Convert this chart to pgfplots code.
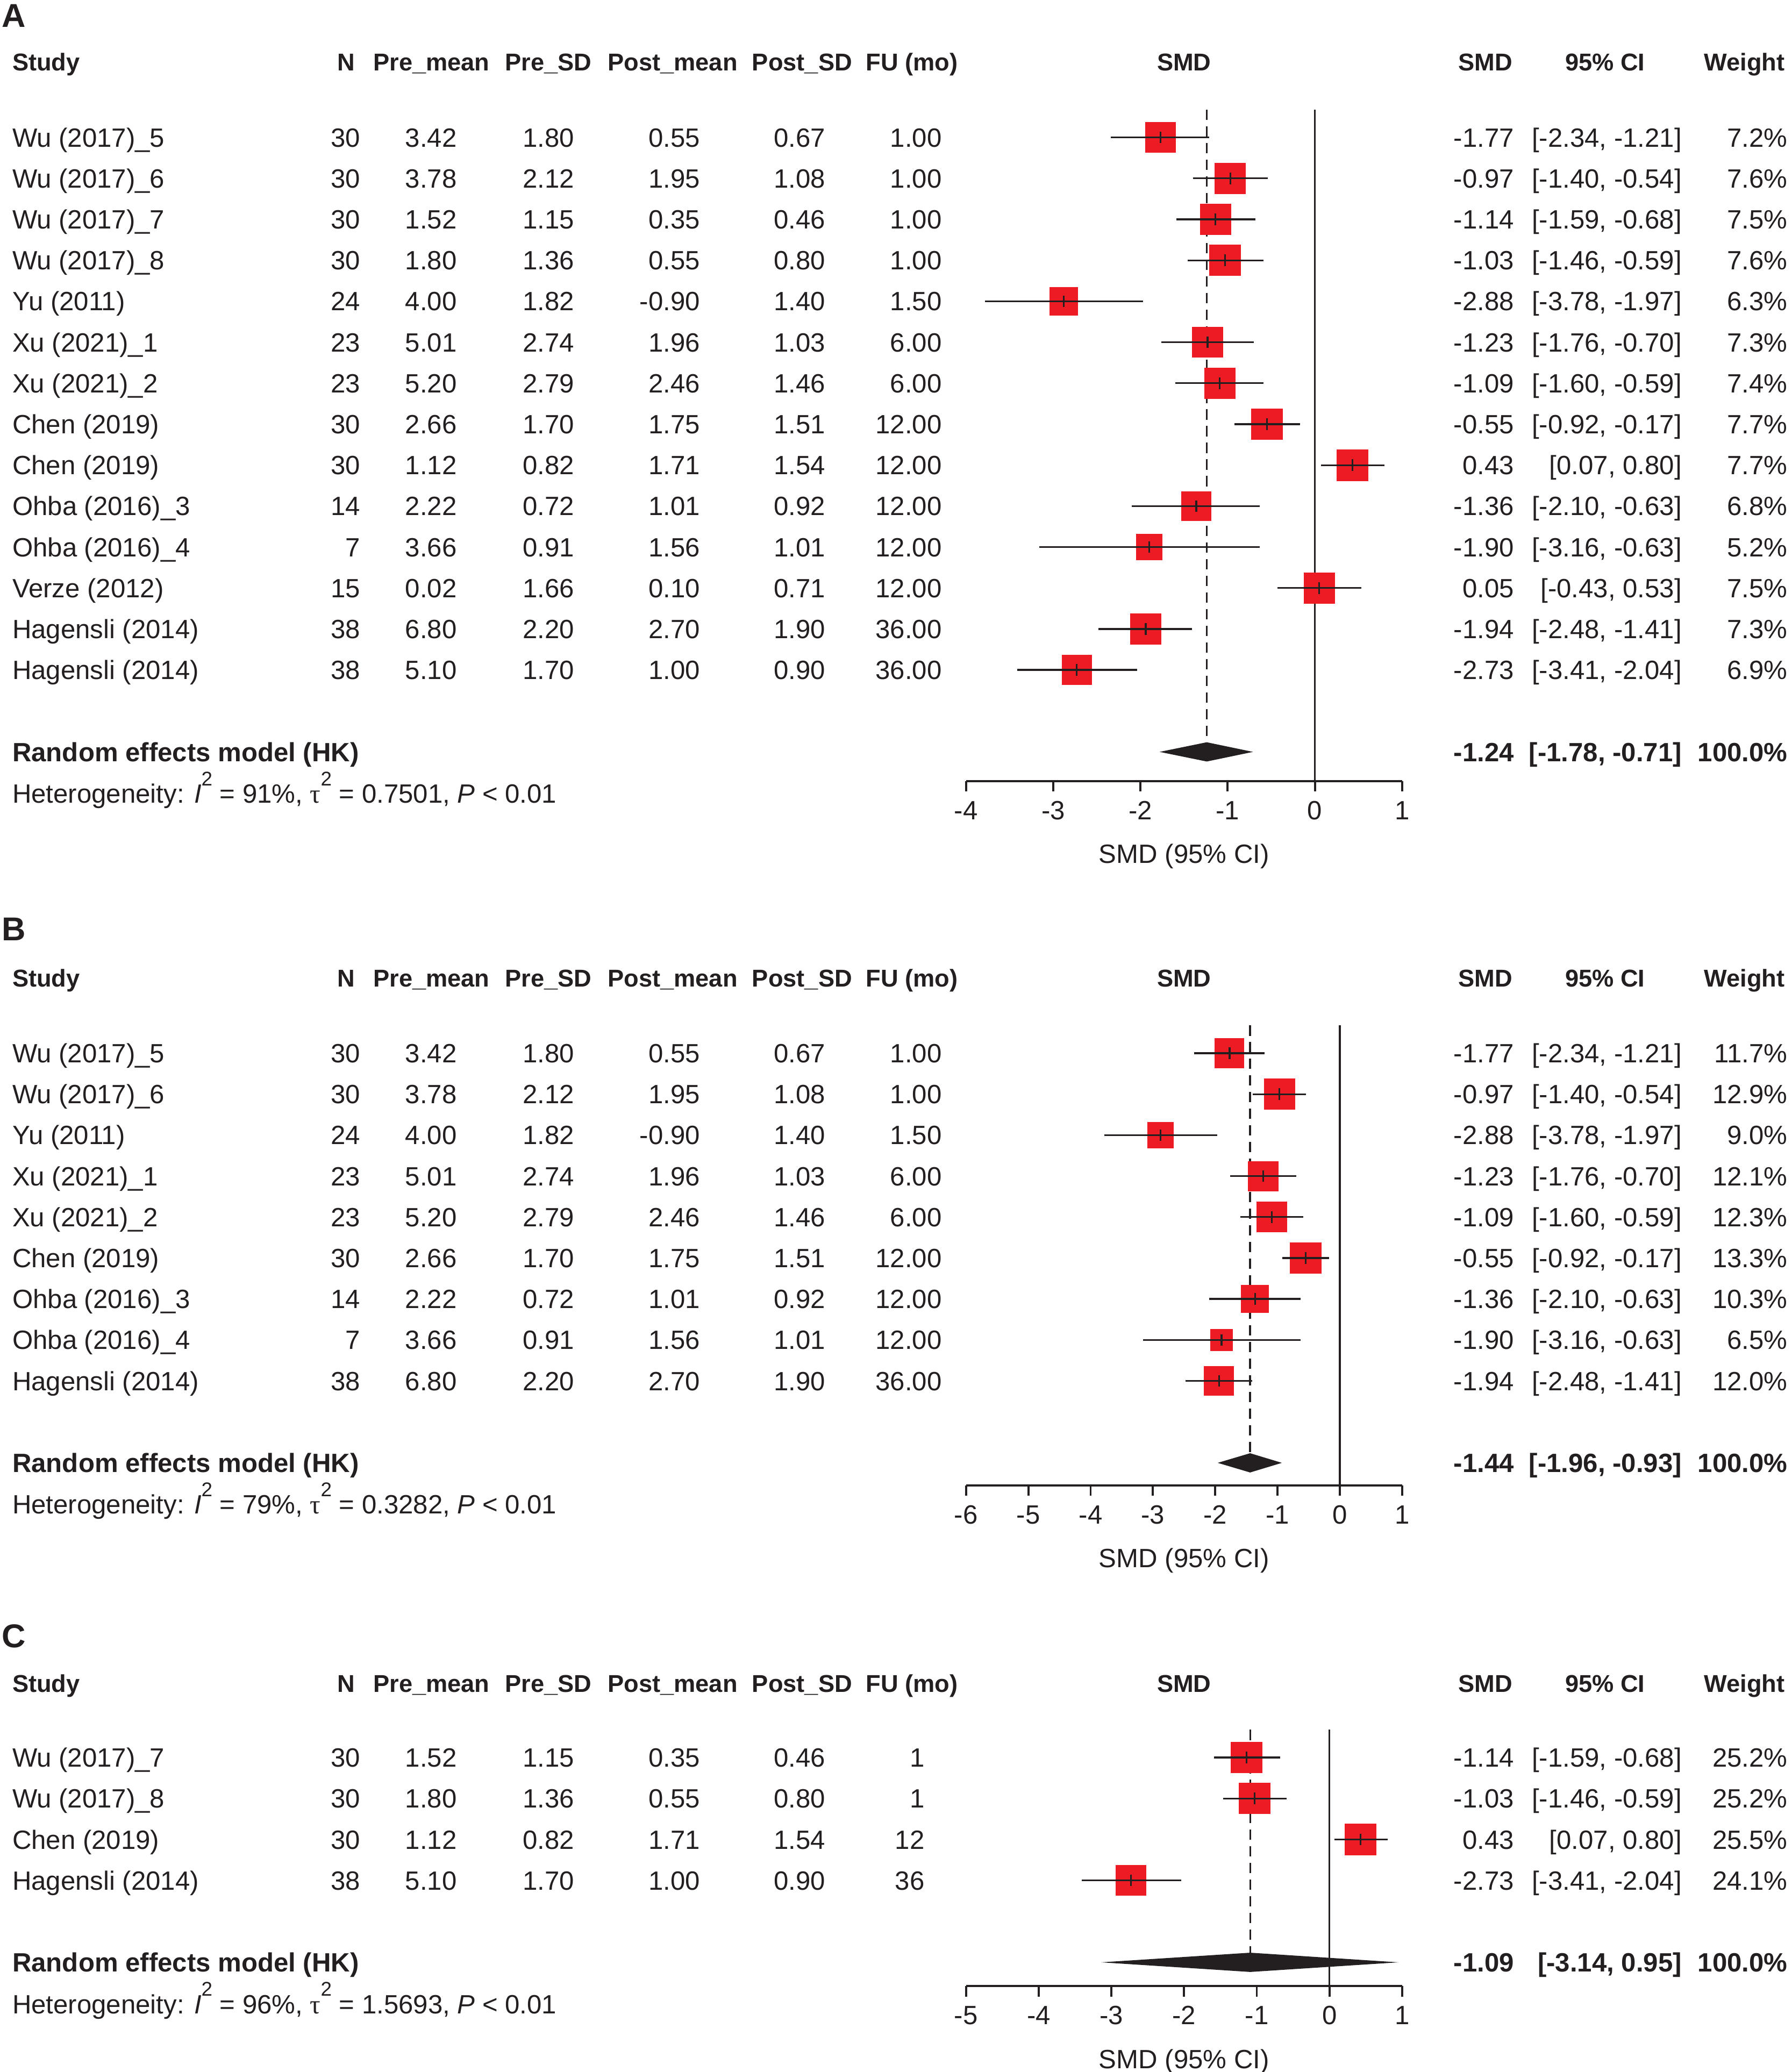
\documentclass[border=0pt]{standalone}
\usepackage{pgfplots}
\pgfplotsset{compat=1.18}
\usepackage{pgfplotstable}
\usepackage{fontspec}
\setmainfont{Liberation Sans}
\newfontfamily\greekfont{Liberation Serif}

\definecolor{ink}{HTML}{231F20}
\definecolor{sqred}{HTML}{ED1C24}

% k = row, est/lo/hi = SMD with 95% CI, w = weight in %
\pgfplotstableread{
k est lo hi w
1 -1.77 -2.34 -1.21 7.2
2 -0.97 -1.40 -0.54 7.6
3 -1.14 -1.59 -0.68 7.5
4 -1.03 -1.46 -0.59 7.6
5 -2.88 -3.78 -1.97 6.3
6 -1.23 -1.76 -0.70 7.3
7 -1.09 -1.60 -0.59 7.4
8 -0.55 -0.92 -0.17 7.7
9 0.43 0.07 0.80 7.7
10 -1.36 -2.10 -0.63 6.8
11 -1.90 -3.16 -0.63 5.2
12 0.05 -0.43 0.53 7.5
13 -1.94 -2.48 -1.41 7.3
14 -2.73 -3.41 -2.04 6.9
}\dataA
\pgfplotstableread{
k est lo hi w
1 -1.77 -2.34 -1.21 11.7
2 -0.97 -1.40 -0.54 12.9
3 -2.88 -3.78 -1.97 9.0
4 -1.23 -1.76 -0.70 12.1
5 -1.09 -1.60 -0.59 12.3
6 -0.55 -0.92 -0.17 13.3
7 -1.36 -2.10 -0.63 10.3
8 -1.90 -3.16 -0.63 6.5
9 -1.94 -2.48 -1.41 12.0
}\dataB
\pgfplotstableread{
k est lo hi w
1 -1.14 -1.59 -0.68 25.2
2 -1.03 -1.46 -0.59 25.2
3 0.43 0.07 0.80 25.5
4 -2.73 -3.41 -2.04 24.1
}\dataC

\pgfplotsset{
  forest/.style={
    scale only axis, width=165pt, clip=false, clip marker paths=true,
    axis x line=bottom, axis y line=none,
    x axis line style={-, line width=0.8pt, draw=ink},
    xtick style={line width=0.8pt, draw=ink},
    tick align=outside, major tick length=4pt,
    ytick=\empty,
    xticklabel style={font=\fontsize{10}{12}\selectfont, text=ink, inner sep=0pt,
      text height=7.15pt, text depth=0pt, anchor=center, yshift=-7pt},
    xlabel={SMD (95\% CI)},
    xlabel style={at={(axis description cs:0.5,0)}, anchor=center, yshift=-27.5pt,
      inner sep=0pt, text height=7.15pt, text depth=0pt, text=ink},
  },
  refline/.style={ink, line width=0.7pt, forget plot},
  meanline/.style={ink, line width=0.7pt, dash pattern=on 3.9pt off 2.4pt, forget plot},
}

% squares (area ~ weight), then CI lines with a tick at the estimate
\newcommand\studies[2]{%
  \addplot[scatter, only marks, mark=square*,
    scatter/use mapped color={draw=sqred, fill=sqred},
    mark options={line width=0pt},
    visualization depends on={\thisrow{w} \as \wt},
    scatter/@pre marker code/.append style={/tikz/mark size={5.875*sqrt(\wt/#2)}}]
    table[x=est, y expr=-\thisrow{k}] {#1};
  \addplot[ink, only marks, mark=|, mark size=2.2pt,
    mark options={line width=0.68pt, draw=ink},
    error bars/.cd, x dir=both, x explicit, error mark=none,
    error bar style={line width=0.68pt, draw=ink}]
    table[x=est, y expr=-\thisrow{k},
      x error plus expr=\thisrow{hi}-\thisrow{est},
      x error minus expr=\thisrow{est}-\thisrow{lo}] {#1};
}

\tikzset{
  tx/.style={inner sep=0pt, text height=7.15pt, text depth=0pt, text=ink},
  hd/.style={inner sep=0pt, text height=6.6pt, text depth=0pt, text=ink,
    font=\fontsize{9.2}{11}\selectfont\bfseries},
  sb/.style={tx, font=\bfseries},
  panel/.style={inner sep=0pt, anchor=west, text=ink, text height=8.95pt, text depth=0pt,
    font=\fontsize{12.5}{15}\selectfont\bfseries},
}

\newcommand\fux{713}
\newcommand\header[1]{%
  \node[hd,anchor=west] at (9,#1) {Study};
  \node[hd] at (262,#1) {N};
  \node[hd] at (326.5,#1) {Pre\_mean};
  \node[hd] at (415,#1) {Pre\_SD};
  \node[hd] at (509,#1) {Post\_mean};
  \node[hd] at (607,#1) {Post\_SD};
  \node[hd] at (690,#1) {FU (mo)};
  \node[hd] at (896,#1) {SMD};
  \node[hd] at (1124,#1) {SMD};
  \node[hd] at (1214.5,#1) {95\% CI};
  \node[hd] at (1320,#1) {Weight};
}
\newcommand\lrow[8]{%
  \node[tx,anchor=west] at (9,#1) {#2};
  \node[tx,anchor=east] at (273,#1) {#3};
  \node[tx,anchor=east] at (346,#1) {#4};
  \node[tx,anchor=east] at (435,#1) {#5};
  \node[tx,anchor=east] at (530,#1) {#6};
  \node[tx,anchor=east] at (625,#1) {#7};
  \node[tx,anchor=east] at (\fux,#1) {#8};
}
\newcommand\rrow[4]{%
  \node[tx,anchor=east] at (1146,#1) {#2};
  \node[tx,anchor=east] at (1273,#1) {#3};
  \node[tx,anchor=east] at (1353,#1) {#4};
}
\newcommand\sq{\raisebox{6.6pt}{\fontsize{7.5}{8}\selectfont 2}}
\newcommand\summ[5]{% y, SMD, CI, I2, tau2
  \node[sb,anchor=west] at (9,#1) {Random effects model (HK)};
  \node[sb,anchor=east] at (1146,#1) {#2};
  \node[sb,anchor=east] at (1273,#1) {#3};
  \node[sb,anchor=east] at (1353,#1) {100.0\%};
  \node[tx,anchor=west] at (9,#1+31.5) {Heterogeneity: \textit{I}\sq{} = #4\%, {\greekfont τ}\sq{} = #5, \textit{P} < 0.01};
}

\begin{document}
\begin{tikzpicture}
\path[use as bounding box] (0,0) rectangle (678pt,-784pt);

% ---------- A ----------
\begin{axis}[forest, at={(448pt,-168.5pt)}, anchor=center, height=254pt,
  xmin=-4, xmax=1, ymin=-16.71, ymax=-0.3226,
  xtick={-4,-3,-2,-1,0,1}, xticklabels={-4,-3,-2,-1,0,1}]
  \addplot[meanline] coordinates {(-1.24,-0.3226) (-1.24,-15.765)};
  \addplot[refline] coordinates {(0,-0.3226) (0,-16.71)};
  \studies{\dataA}{7.7}
  \addplot[fill=ink, draw=none] coordinates {(-1.78,-16) (-1.24,-15.765) (-0.71,-16) (-1.24,-16.235) (-1.78,-16)};
\end{axis}

% ---------- B ----------
\begin{axis}[forest, at={(448pt,-475pt)}, anchor=center, height=174pt,
  xmin=-6, xmax=1, ymin=-11.548, ymax=-0.3226,
  xtick={-6,-5,-4,-3,-2,-1,0,1}, xticklabels={-6,-5,-4,-3,-2,-1,0,1}]
  \addplot[meanline] coordinates {(-1.44,-0.3226) (-1.44,-10.765)};
  \addplot[refline] coordinates {(0,-0.3226) (0,-11.548)};
  \studies{\dataB}{13.3}
  \addplot[fill=ink, draw=none] coordinates {(-1.96,-11) (-1.44,-10.765) (-0.93,-11) (-1.44,-11.235) (-1.96,-11)};
\end{axis}

% ---------- C ----------
\begin{axis}[forest, at={(448pt,-703pt)}, anchor=center, height=97pt,
  xmin=-5, xmax=1, ymin=-6.581, ymax=-0.3226,
  xtick={-5,-4,-3,-2,-1,0,1}, xticklabels={-5,-4,-3,-2,-1,0,1}]
  \addplot[meanline] coordinates {(-1.09,-0.3226) (-1.09,-5.765)};
  \addplot[refline] coordinates {(0,-0.3226) (0,-6.581)};
  \studies{\dataC}{25.5}
  \addplot[fill=ink, draw=none] coordinates {(-3.14,-6) (-1.09,-5.765) (0.95,-6) (-1.09,-6.235) (-3.14,-6)};
\end{axis}

\begin{scope}[x=0.5pt, y=-0.5pt]
% ---------- A text ----------
\node[panel] at (1,11.5) {A};
\header{47}
\lrow{104}{Wu (2017)\_5}{30}{3.42}{1.80}{0.55}{0.67}{1.00}\rrow{104}{-1.77}{[-2.34, -1.21]}{7.2\%}
\lrow{135}{Wu (2017)\_6}{30}{3.78}{2.12}{1.95}{1.08}{1.00}\rrow{135}{-0.97}{[-1.40, -0.54]}{7.6\%}
\lrow{166}{Wu (2017)\_7}{30}{1.52}{1.15}{0.35}{0.46}{1.00}\rrow{166}{-1.14}{[-1.59, -0.68]}{7.5\%}
\lrow{197}{Wu (2017)\_8}{30}{1.80}{1.36}{0.55}{0.80}{1.00}\rrow{197}{-1.03}{[-1.46, -0.59]}{7.6\%}
\lrow{228}{Yu (2011)}{24}{4.00}{1.82}{-0.90}{1.40}{1.50}\rrow{228}{-2.88}{[-3.78, -1.97]}{6.3\%}
\lrow{259}{Xu (2021)\_1}{23}{5.01}{2.74}{1.96}{1.03}{6.00}\rrow{259}{-1.23}{[-1.76, -0.70]}{7.3\%}
\lrow{290}{Xu (2021)\_2}{23}{5.20}{2.79}{2.46}{1.46}{6.00}\rrow{290}{-1.09}{[-1.60, -0.59]}{7.4\%}
\lrow{321}{Chen (2019)}{30}{2.66}{1.70}{1.75}{1.51}{12.00}\rrow{321}{-0.55}{[-0.92, -0.17]}{7.7\%}
\lrow{352}{Chen (2019)}{30}{1.12}{0.82}{1.71}{1.54}{12.00}\rrow{352}{0.43}{[0.07, 0.80]}{7.7\%}
\lrow{383}{Ohba (2016)\_3}{14}{2.22}{0.72}{1.01}{0.92}{12.00}\rrow{383}{-1.36}{[-2.10, -0.63]}{6.8\%}
\lrow{414}{Ohba (2016)\_4}{7}{3.66}{0.91}{1.56}{1.01}{12.00}\rrow{414}{-1.90}{[-3.16, -0.63]}{5.2\%}
\lrow{445}{Verze (2012)}{15}{0.02}{1.66}{0.10}{0.71}{12.00}\rrow{445}{0.05}{[-0.43, 0.53]}{7.5\%}
\lrow{476}{Hagensli (2014)}{38}{6.80}{2.20}{2.70}{1.90}{36.00}\rrow{476}{-1.94}{[-2.48, -1.41]}{7.3\%}
\lrow{507}{Hagensli (2014)}{38}{5.10}{1.70}{1.00}{0.90}{36.00}\rrow{507}{-2.73}{[-3.41, -2.04]}{6.9\%}
\summ{569}{-1.24}{[-1.78, -0.71]}{91}{0.7501}

% ---------- B text ----------
\node[panel] at (1,703) {B};
\header{740}
\lrow{797}{Wu (2017)\_5}{30}{3.42}{1.80}{0.55}{0.67}{1.00}\rrow{797}{-1.77}{[-2.34, -1.21]}{11.7\%}
\lrow{828}{Wu (2017)\_6}{30}{3.78}{2.12}{1.95}{1.08}{1.00}\rrow{828}{-0.97}{[-1.40, -0.54]}{12.9\%}
\lrow{859}{Yu (2011)}{24}{4.00}{1.82}{-0.90}{1.40}{1.50}\rrow{859}{-2.88}{[-3.78, -1.97]}{9.0\%}
\lrow{890}{Xu (2021)\_1}{23}{5.01}{2.74}{1.96}{1.03}{6.00}\rrow{890}{-1.23}{[-1.76, -0.70]}{12.1\%}
\lrow{921}{Xu (2021)\_2}{23}{5.20}{2.79}{2.46}{1.46}{6.00}\rrow{921}{-1.09}{[-1.60, -0.59]}{12.3\%}
\lrow{952}{Chen (2019)}{30}{2.66}{1.70}{1.75}{1.51}{12.00}\rrow{952}{-0.55}{[-0.92, -0.17]}{13.3\%}
\lrow{983}{Ohba (2016)\_3}{14}{2.22}{0.72}{1.01}{0.92}{12.00}\rrow{983}{-1.36}{[-2.10, -0.63]}{10.3\%}
\lrow{1014}{Ohba (2016)\_4}{7}{3.66}{0.91}{1.56}{1.01}{12.00}\rrow{1014}{-1.90}{[-3.16, -0.63]}{6.5\%}
\lrow{1045}{Hagensli (2014)}{38}{6.80}{2.20}{2.70}{1.90}{36.00}\rrow{1045}{-1.94}{[-2.48, -1.41]}{12.0\%}
\summ{1107}{-1.44}{[-1.96, -0.93]}{79}{0.3282}

% ---------- C text ----------
\node[panel] at (1,1238) {C};
\header{1274}
\renewcommand\fux{700}
\lrow{1330}{Wu (2017)\_7}{30}{1.52}{1.15}{0.35}{0.46}{1}\rrow{1330}{-1.14}{[-1.59, -0.68]}{25.2\%}
\lrow{1361}{Wu (2017)\_8}{30}{1.80}{1.36}{0.55}{0.80}{1}\rrow{1361}{-1.03}{[-1.46, -0.59]}{25.2\%}
\lrow{1392}{Chen (2019)}{30}{1.12}{0.82}{1.71}{1.54}{12}\rrow{1392}{0.43}{[0.07, 0.80]}{25.5\%}
\lrow{1423}{Hagensli (2014)}{38}{5.10}{1.70}{1.00}{0.90}{36}\rrow{1423}{-2.73}{[-3.41, -2.04]}{24.1\%}
\summ{1485}{-1.09}{[-3.14, 0.95]}{96}{1.5693}
\end{scope}
\end{tikzpicture}
\end{document}
